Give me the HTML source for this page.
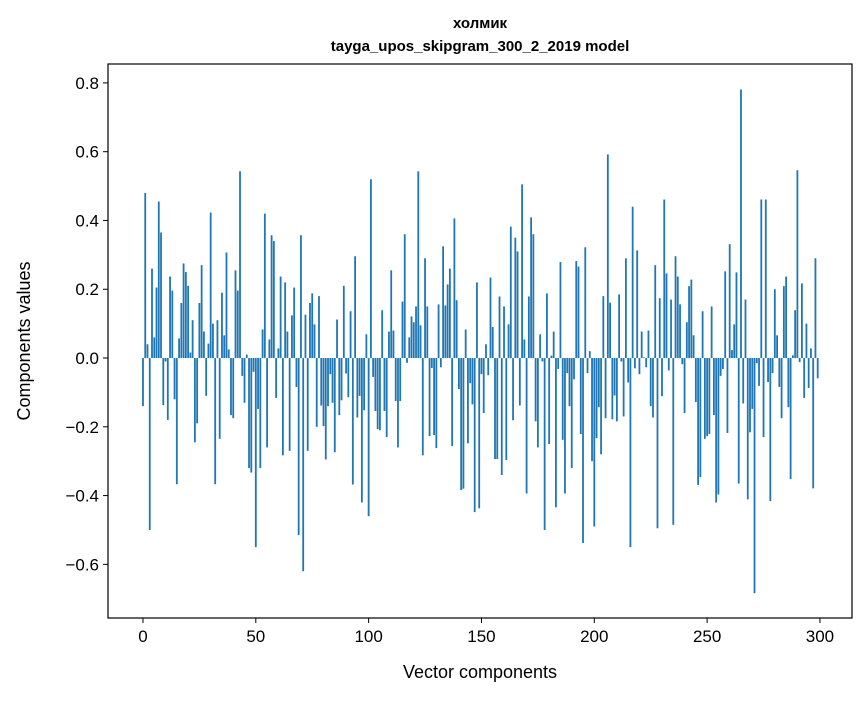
<!DOCTYPE html>
<html><head><meta charset="utf-8"><style>
body{margin:0;background:#fff;}
svg text{font-family:"Liberation Sans","DejaVu Sans",sans-serif;fill:#000;}
</style></head><body>
<svg id="chart" width="867" height="696" xmlns="http://www.w3.org/2000/svg">
<rect width="867" height="696" fill="#fff"/>
<text x="480" y="28" text-anchor="middle" font-size="15" font-weight="bold">холмик</text>
<text x="480" y="51" text-anchor="middle" font-size="15" font-weight="bold">tayga_upos_skipgram_300_2_2019 model</text>
<g id="bars"></g>
<g id="axes"></g>
<text x="480" y="678" text-anchor="middle" font-size="18">Vector components</text>
<text transform="translate(30,341) rotate(-90)" text-anchor="middle" font-size="18">Components values</text>
</svg>
<script>
const values = [
-0.14,0.48,0.04,-0.50,0.26,0.06,0.205,0.455,0.365,-0.137,
-0.01,-0.18,0.237,0.196,-0.12,-0.367,0.057,0.16,0.275,0.25,
0.21,0.016,0.11,-0.245,-0.19,0.16,0.27,0.077,-0.11,0.042,
0.423,0.10,-0.367,0.11,-0.235,0.19,0.066,0.307,0.025,-0.166,
-0.175,0.255,0.196,0.543,-0.052,-0.13,0.01,-0.32,-0.333,-0.04,
-0.55,-0.148,-0.32,0.083,0.42,-0.26,0.054,0.357,0.34,-0.116,
0.028,0.237,-0.283,0.22,0.077,-0.27,0.124,0.205,-0.084,-0.515,
0.357,-0.62,0.126,-0.27,0.16,0.188,0.098,-0.2,0.18,-0.138,
-0.198,-0.295,-0.14,-0.047,-0.13,-0.274,0.112,-0.166,-0.123,0.21,
-0.045,-0.114,0.136,-0.368,0.296,-0.173,-0.11,-0.42,-0.152,0.069,
-0.46,0.52,-0.055,-0.154,-0.207,-0.21,0.139,-0.154,-0.23,0.077,
0.255,0.08,-0.125,-0.26,-0.125,0.164,0.36,-0.014,0.06,0.121,
0.104,0.15,0.543,0.095,-0.283,0.29,0.15,-0.227,-0.029,-0.224,
-0.262,0.156,-0.027,0.325,0.153,0.214,0.26,-0.256,0.406,0.168,
-0.09,-0.384,-0.38,0.083,-0.248,-0.073,-0.135,-0.448,0.22,-0.437,
-0.047,-0.16,0.04,-0.05,0.234,0.09,-0.294,-0.294,0.179,-0.34,
0.15,-0.297,0.098,0.382,-0.181,0.35,0.31,-0.138,0.505,0.054,
-0.394,0.179,0.409,0.36,-0.184,-0.26,0.069,-0.01,-0.5,0.188,
-0.25,0.007,0.077,-0.434,-0.032,0.279,-0.238,-0.394,-0.044,-0.14,
-0.32,-0.062,0.282,0.266,-0.221,-0.538,0.322,-0.044,0.02,-0.3,
-0.49,-0.233,-0.143,-0.28,0.18,-0.175,0.592,0.161,-0.178,-0.109,
-0.184,0.185,-0.01,-0.17,0.29,-0.071,-0.55,0.44,-0.03,0.313,
-0.047,0.077,0.002,-0.027,0.08,-0.14,-0.173,0.27,-0.495,0.174,
-0.111,0.461,0.246,-0.036,0.17,-0.485,0.296,0.237,0.156,-0.018,
-0.16,0.104,0.209,0.228,0.066,-0.128,-0.369,-0.346,0.136,-0.235,
-0.227,-0.221,0.15,-0.166,-0.42,-0.397,-0.052,-0.032,0.252,-0.218,
0.331,0.023,0.098,0.249,-0.365,0.781,-0.132,0.17,-0.411,-0.216,
-0.148,-0.684,-0.015,-0.081,0.461,-0.23,0.461,-0.07,-0.416,-0.044,
0.2,0.066,-0.084,-0.175,0.209,0.237,-0.143,-0.352,0.008,0.139,
0.546,-0.012,0.217,-0.116,0.1,-0.087,0.028,-0.379,0.29,-0.059
];
const xTicks = [0,50,100,150,200,250,300];
const yTicks = [-0.6,-0.4,-0.2,0.0,0.2,0.4,0.6,0.8];
const yTickLabels = ["\u22120.6","\u22120.4","\u22120.2","0.0","0.2","0.4","0.6","0.8"];

const L=108,R=852,T=64,B=618;
const xMin=-15.5,xMax=314.2,yMin=-0.756,yMax=0.855;
const xs=v=>L+(v-xMin)/(xMax-xMin)*(R-L);
const ys=v=>T+(yMax-v)/(yMax-yMin)*(B-T);
const NS="http://www.w3.org/2000/svg";
const bars=document.getElementById('bars');
values.forEach((v,i)=>{
  const r=document.createElementNS(NS,'rect');
  const x0=xs(i-0.4),x1=xs(i+0.4);
  const y0=ys(Math.max(v,0)),y1=ys(Math.min(v,0));
  r.setAttribute('x',x0);r.setAttribute('width',x1-x0);
  r.setAttribute('y',y0);r.setAttribute('height',Math.max(y1-y0,0.01));
  r.setAttribute('fill','#1f77b4');
  
  
  bars.appendChild(r);
});
const ax=document.getElementById('axes');
const frame=document.createElementNS(NS,'rect');
frame.setAttribute('x',L);frame.setAttribute('y',T);frame.setAttribute('width',R-L);frame.setAttribute('height',B-T);
frame.setAttribute('fill','none');frame.setAttribute('stroke','#000');frame.setAttribute('stroke-width','1.2');


ax.appendChild(frame);
xTicks.forEach(t=>{
  const x=xs(t);
  const l=document.createElementNS(NS,'line');
  l.setAttribute('x1',x);l.setAttribute('x2',x);l.setAttribute('y1',B);l.setAttribute('y2',B+5);l.setAttribute('stroke','#000');
  
  
  ax.appendChild(l);
  const tx=document.createElementNS(NS,'text');
  tx.setAttribute('x',x);tx.setAttribute('y',B+24);tx.setAttribute('text-anchor','middle');tx.setAttribute('font-size','17');
  tx.textContent=t;
  
  
  ax.appendChild(tx);
});
yTicks.forEach((t,i)=>{
  const y=ys(t);
  const l=document.createElementNS(NS,'line');
  l.setAttribute('x1',L-5);l.setAttribute('x2',L);l.setAttribute('y1',y);l.setAttribute('y2',y);l.setAttribute('stroke','#000');
  
  
  ax.appendChild(l);
  const tx=document.createElementNS(NS,'text');
  tx.setAttribute('x',L-9);tx.setAttribute('y',y+6);tx.setAttribute('text-anchor','end');tx.setAttribute('font-size','17');
  tx.textContent=yTickLabels[i];
  
  
  ax.appendChild(tx);
});
</script>
</body></html>
